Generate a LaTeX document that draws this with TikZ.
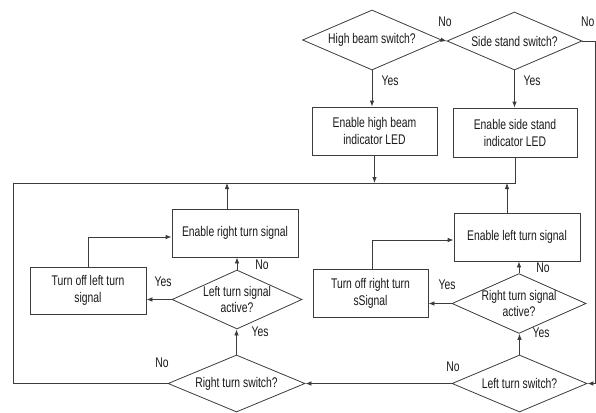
\documentclass[tikz,border=0pt]{standalone}
\usepackage{fontspec}
\setmainfont[FakeStretch=0.74]{Liberation Sans}
\usetikzlibrary{shapes.geometric,arrows.meta}
\definecolor{ln}{HTML}{3C3C3C}
\definecolor{tx}{HTML}{1A1A1A}
\begin{document}
\begin{tikzpicture}[x=1pt,y=-1pt,
  every node/.style={text=tx,font=\fontsize{14}{17}\selectfont},
  box/.style={draw=ln,line width=0.8pt,rectangle,inner sep=0pt,align=center},
  dia/.style={draw=ln,line width=0.8pt,diamond,aspect=2.2,inner sep=0pt,align=center,font=\fontsize{14}{15.5}\selectfont},
  lbl/.style={inner sep=0pt},
  conn/.style={draw=ln,line width=0.8pt},
  arr/.style={conn,-{Latex[length=6pt,width=4.5pt]}}]
\fill[white] (0,0) rectangle (596,412);
\useasboundingbox (0,0) rectangle (596,412);
% decisions
\node[dia,minimum width=139pt,minimum height=60pt] (hb) at (372,40) {High beam switch?};
\node[dia,minimum width=135pt,minimum height=58pt] (ss) at (514.5,41) {Side stand switch?};
\node[dia,minimum width=130pt,minimum height=59pt] (lta) at (237,299.5) {Left turn signal\\active?};
\node[dia,minimum width=137pt,minimum height=57pt] (rts) at (236.5,383.5) {Right turn switch?};
\node[dia,minimum width=134pt,minimum height=59pt] (rta) at (519,303.5) {Right turn signal\\active?};
\node[dia,minimum width=135pt,minimum height=57pt] (lts) at (519.5,383.5) {Left turn switch?};
% boxes
\node[box,minimum width=125pt,minimum height=48pt] (hbbox) at (374.5,131) {Enable high beam\\indicator LED};
\node[box,minimum width=124pt,minimum height=49pt] (ssbox) at (515,132.5) {Enable side stand\\indicator LED};
\node[box,minimum width=126pt,minimum height=48pt] (erbox) at (235,233) {Enable right turn signal};
\node[box,minimum width=116pt,minimum height=47pt] (tolbox) at (88,290.5) {Turn off left turn\\signal};
\node[box,minimum width=126pt,minimum height=48pt] (elbox) at (517,237) {Enable left turn signal};
\node[box,minimum width=115pt,minimum height=48pt] (torbox) at (370.5,293) {Turn off right turn\\sSignal};
% loop coordinates
\coordinate (tl) at (13,183);
\coordinate (tr) at (515,183);
\coordinate (bl) at (13,383.5);
\coordinate (rt) at (595,41);
\coordinate (rb) at (595,383.5);
% connectors
\draw[arr] (hb.east) -- (ss.west);
\draw[arr] (hb.south) -- (hb.south |- hbbox.north);
\draw[arr] (ss.south) -- (ss.south |- ssbox.north);
\draw[arr] (hbbox.south) -- (hbbox.south |- tl);
\draw[conn] (ssbox.south) -- (tr) -- (tl) -- (bl) -- (rts.west);
\draw[arr] ([xshift=-8pt]erbox.north) -- ([xshift=-8pt]erbox.north |- tl);
\draw[arr] ([xshift=-10pt]elbox.north) -- ([xshift=-10pt]elbox.north |- tl);
\draw[arr] (tolbox.north) |- ([yshift=-4pt]erbox.west);
\draw[arr] ([xshift=1.5pt]torbox.north) |- ([yshift=-3pt]elbox.west);
\draw[arr] (lta.west) -- (lta.west -| tolbox.east);
\draw[arr] (lta.north) -- (lta.north |- erbox.south);
\draw[arr] (rts.north) -- (rts.north |- lta.south);
\draw[arr] (rta.west) -- (rta.west -| torbox.east);
\draw[arr] (rta.north) -- (rta.north |- elbox.south);
\draw[arr] (lts.north) -- (lts.north |- rta.south);
\draw[arr] (lts.west) -- (rts.east);
\draw[arr] (ss.east) -- (rt) -- (rb) -- (lts.east);
% labels
\node[lbl] (n1) at (445,22) {No};
\node[lbl,anchor=west] (n2) at (581,22) {No};
\node[lbl] (y1) at (390,81) {Yes};
\node[lbl] (y2) at (532,81) {Yes};
\node[lbl] (n3) at (262,265) {No};
\node[lbl] (y3) at (163,282) {Yes};
\node[lbl] (y4) at (260,332) {Yes};
\node[lbl] (n4) at (162,363) {No};
\node[lbl] (n5) at (543,268) {No};
\node[lbl] (y5) at (447,285) {Yes};
\node[lbl] (y6) at (541,333) {Yes};
\node[lbl] (n6) at (453,367) {No};
\end{tikzpicture}
\end{document}
